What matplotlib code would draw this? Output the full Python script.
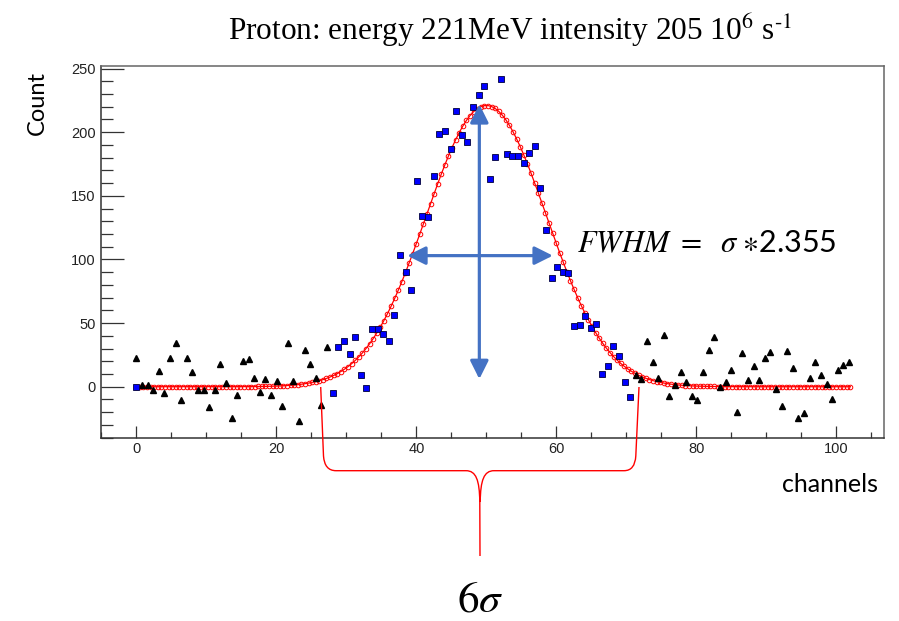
import numpy as np
import matplotlib.pyplot as plt
from matplotlib.path import Path
from matplotlib.patches import PathPatch
from matplotlib.ticker import MultipleLocator

# channel position of each of the 128 bins
chan = np.linspace(0, 101.8, 128)

# bins 0-34, left of the fit window (triangles)
counts_left = [22.6, 1.6, 1.6, -2.9, 12.6, -4.7, 22.6, 34.5, -10.8, 22.6,
               11.3, -2.4, -2.4, -16, -2.9, 18.2, 2.9, -24.7, -6.3, 20,
               21.8, 6.6, -3.9, 5.8, -6.3, 4.5, -15, 34, 4.5, -27,
               28.7, 18.2, 6.8, -14.5, 31.3]
# bins 35-88, inside the fit window (squares)
counts_peak = [-5.0, 31.3, 35.7, 26, 39.2, 9.5, -1, 45.5, 45.5, 41.8,
               35.7, 56, 103.6, 90.4, 76, 162, 134.3, 133.5, 165.9, 198.7,
               200.6, 186.4, 216.3, 198, 192.2, 219.8, 229.5, 236.3, 163.2, 180.3,
               241.6, 183, 181.1, 181.1, 175.9, 183.8, 189, 156.2, 123.3, 85.2,
               94.1, 90.4, 89.6, 47.6, 48.4, 55.5, 46.3, 49.4, 10.3, 16.6,
               31.8, 23.9, 3.4, -8.2]
# bins 89-127, right of the fit window (triangles)
counts_right = [9.4, 5.8, 35.6, 19.8, 6.6, 40.8, -7.6, 1.6, 11.8, 3.4,
                -7.6, -10.8, 11.3, 29.2, 38.9, -0.5, 3.4, 12.9, -19.7, 26.6,
                5, 16, 5, 22.3, 27.6, -1.6, -15.5, 28.4, 14.5, -24.7,
                -20.8, 6.6, 19.7, 9.2, 2.4, -9.7, 13.4, 17.1, 19.2]

# gaussian fit result
fit_amp = 221.0
fit_mean = 50.0
fit_sigma = 8.6
fit_x = np.linspace(0, 102, 200)
fit_y = fit_amp * np.exp(-0.5 * ((fit_x - fit_mean) / fit_sigma) ** 2)

W, H = 899, 621


def px(x, y):
    # pixel position (origin top-left) -> figure fraction
    return (x / W, 1 - y / H)


fig = plt.figure(figsize=(W / 100, H / 100), dpi=100)
ax = fig.add_axes([101 / W, 1 - 438 / H, 783 / W, 372 / H])

n_l = len(counts_left)
n_p = len(counts_peak)
x_left = chan[:n_l]
x_peak = chan[n_l:n_l + n_p]
x_right = chan[n_l + n_p:]

ax.plot(fit_x, fit_y, color="red", lw=0.9, marker="o", ms=3.3,
        mfc="none", mec="red", mew=0.7, zorder=2)
ax.plot(x_left, counts_left, ls="none", marker="^", ms=5,
        color="black", zorder=3)
ax.plot(x_right, counts_right, ls="none", marker="^", ms=5,
        color="black", zorder=3)
ax.plot(x_peak, counts_peak, ls="none", marker="s", ms=4,
        mfc="blue", mec="#00003a", mew=0.6, zorder=3)
ax.plot([0], [0], ls="none", marker="s", ms=4,
        mfc="blue", mec="#00003a", mew=0.6, zorder=3)

ax.set_xlim(-5.04, 106.8)
ax.set_ylim(-40.3, 252)

ax.xaxis.set_major_locator(MultipleLocator(20))
ax.xaxis.set_minor_locator(MultipleLocator(5))
ax.yaxis.set_major_locator(MultipleLocator(50))
ax.yaxis.set_minor_locator(MultipleLocator(10))
ax.tick_params(axis="x", which="major", direction="in", length=8.3,
               width=0.9, color="#333333", pad=3, labelsize=10.5)
ax.tick_params(axis="x", which="minor", direction="in", length=4.3,
               width=0.9, color="#333333")
ax.tick_params(axis="y", which="major", direction="in", length=16.5,
               width=0.9, color="#333333", pad=4, labelsize=10.5)
ax.tick_params(axis="y", which="minor", direction="in", length=8.6,
               width=0.9, color="#333333")
for lab in ax.get_xticklabels() + ax.get_yticklabels():
    lab.set_family("Liberation Sans")
    lab.set_color("#222222")

for side in ["left", "bottom"]:
    ax.spines[side].set_color("#333333")
    ax.spines[side].set_linewidth(1.1)
for side in ["top", "right"]:
    ax.spines[side].set_color("#666666")
    ax.spines[side].set_linewidth(1.1)

# FWHM / height arrows
arrow_kw = dict(arrowstyle="<|-|>,head_length=1.1,head_width=0.55",
                color="#4472C4", lw=2.3, shrinkA=0, shrinkB=0,
                mutation_scale=10)
ax.annotate("", xy=(38.7, 103), xytext=(59.5, 103), arrowprops=arrow_kw,
            zorder=4)
ax.annotate("", xy=(49.0, 222), xytext=(49.0, 6), arrowprops=arrow_kw,
            zorder=4)

# texts
fig.text(510 / W, 1 - 30 / H,
         r"Proton: energy 221MeV intensity 205 10$^{6}$ s$^{\mathrm{\text{-}}1}$",
         ha="center", va="center", fontsize=22.5,
         family="Liberation Serif", math_fontfamily="stix")
fig.text(37 / W, 1 - 103 / H, "Count", rotation=90, ha="center",
         va="center", fontsize=17, family="Lato")
fig.text(878 / W, 1 - 484 / H, "channels", ha="right", va="center",
         fontsize=18, family="Lato")
fig.text(577 / W, 1 - 252 / H, r"$FWHM\ =\ \ \sigma\ {\ast}$2.355",
         ha="left", va="baseline", fontsize=22, family="Lato",
         math_fontfamily="stix")
fig.text(480 / W, 1 - 611 / H, r"$6\sigma$", ha="center", va="baseline",
         fontsize=31, math_fontfamily="stix")

# curly bracket spanning the 6 sigma range
verts = [(320.7, 387), (323.5, 456),
         (324.5, 470.7), (336, 470.7),
         (466, 470.7),
         (476, 470.7), (479.5, 480), (479.8, 502),
         (480, 556),
         (480.2, 502),
         (480.5, 480), (484, 470.7), (494, 470.7),
         (624, 470.7),
         (635, 470.7), (635.8, 456),
         (639, 387)]
codes = [Path.MOVETO, Path.LINETO,
         Path.CURVE3, Path.CURVE3,
         Path.LINETO,
         Path.CURVE4, Path.CURVE4, Path.CURVE4,
         Path.LINETO,
         Path.MOVETO,
         Path.CURVE4, Path.CURVE4, Path.CURVE4,
         Path.LINETO,
         Path.CURVE3, Path.CURVE3,
         Path.LINETO]
brace = PathPatch(Path([px(x, y) for x, y in verts], codes),
                  transform=fig.transFigure, fill=False,
                  edgecolor="red", lw=1.0, clip_on=False)
fig.add_artist(brace)

fig.savefig("out.png", dpi=100)
